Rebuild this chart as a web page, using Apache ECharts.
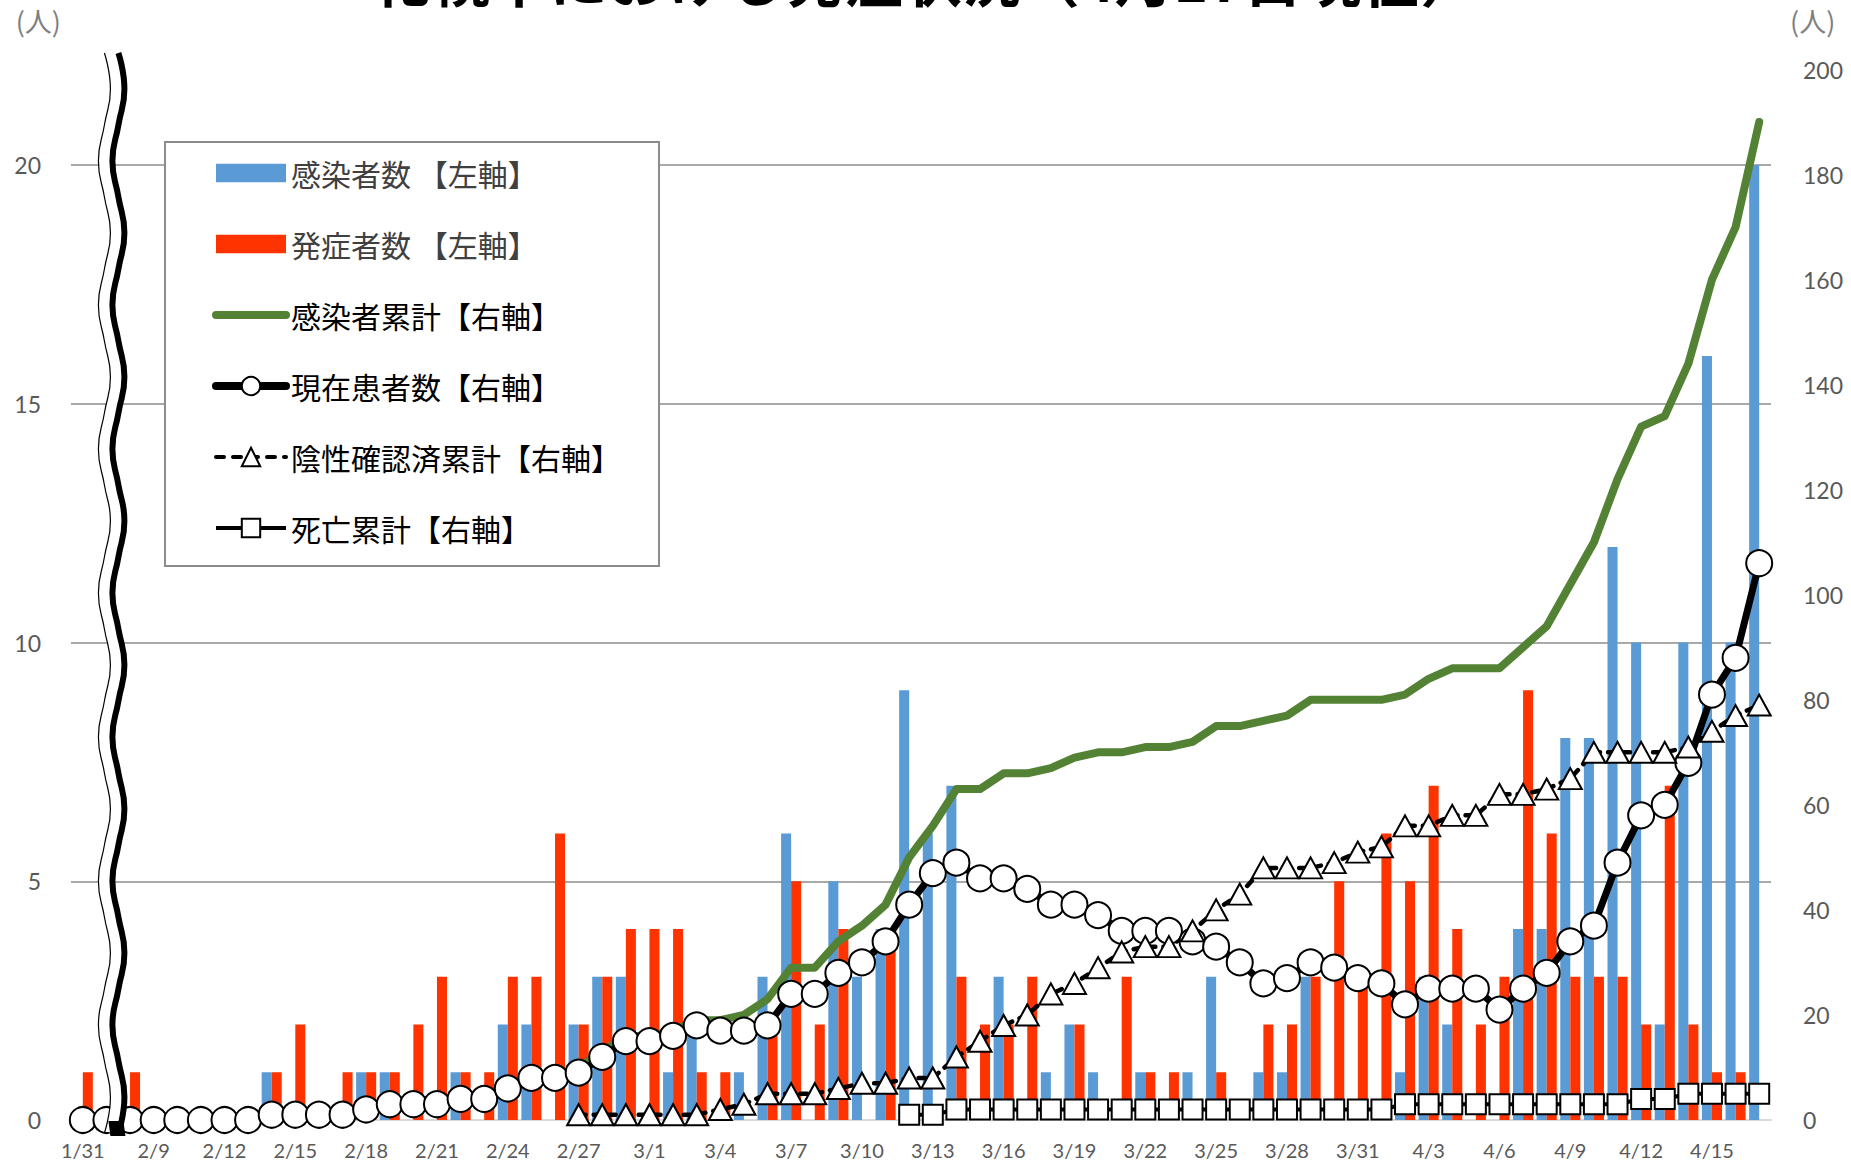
<!DOCTYPE html>
<html>
<head>
<meta charset="utf-8">
<style>
  html, body { margin: 0; padding: 0; background: #fff; }
  #chart { width: 1851px; height: 1168px; }
</style>
<script src="https://cdn.jsdelivr.net/npm/echarts@6/dist/echarts.min.js"></script>
</head>
<body>
<div id="chart"></div>
<script>
  // categories (1/31 then a break, then daily from 2/7)
  const dates = [
    '1/31', '2/7', '2/8', '2/9', '2/10', '2/11', '2/12', '2/13', '2/14', '2/15',
    '2/16', '2/17', '2/18', '2/19', '2/20', '2/21', '2/22', '2/23', '2/24', '2/25',
    '2/26', '2/27', '2/28', '2/29', '3/1', '3/2', '3/3', '3/4', '3/5', '3/6',
    '3/7', '3/8', '3/9', '3/10', '3/11', '3/12', '3/13', '3/14', '3/15', '3/16',
    '3/17', '3/18', '3/19', '3/20', '3/21', '3/22', '3/23', '3/24', '3/25', '3/26',
    '3/27', '3/28', '3/29', '3/30', '3/31', '4/1', '4/2', '4/3', '4/4', '4/5',
    '4/6', '4/7', '4/8', '4/9', '4/10', '4/11', '4/12', '4/13', '4/14', '4/15',
    '4/16', '4/17'
  ];

  // left axis
  const infected = [
    0, 0, 0, 0, 0, 0, 0, 0, 1, 0,
    0, 0, 1, 1, 0, 0, 1, 0, 2, 2,
    0, 2, 3, 3, 0, 1, 2, 0, 1, 3,
    6, 0, 5, 3, 4, 9, 6, 7, 0, 3,
    0, 1, 2, 1, 0, 1, 0, 1, 3, 0,
    1, 1, 3, 0, 0, 0, 1, 3, 2, 0,
    0, 4, 4, 8, 8, 12, 10, 2, 10, 16,
    10, 20
  ];
  const onset = [
    1, 0, 1, 0, 0, 0, 0, 0, 1, 2,
    0, 1, 1, 1, 2, 3, 1, 1, 3, 3,
    6, 2, 3, 4, 4, 4, 1, 1, 0, 2,
    5, 2, 4, 0, 4, 0, 0, 3, 2, 2,
    3, 0, 2, 0, 3, 1, 1, 0, 1, 0,
    2, 2, 3, 5, 3, 6, 5, 7, 4, 2,
    3, 9, 6, 3, 3, 3, 2, 7, 2, 1,
    1, 0
  ];

  // right axis
  const cumulative = [
    0, 0, 0, 0, 0, 0, 0, 0, 1, 1,
    1, 1, 2, 3, 3, 3, 4, 4, 6, 8,
    8, 10, 13, 16, 16, 17, 19, 19, 20, 23,
    29, 29, 34, 37, 41, 50, 56, 63, 63, 66,
    66, 67, 69, 70, 70, 71, 71, 72, 75, 75,
    76, 77, 80, 80, 80, 80, 81, 84, 86, 86,
    86, 90, 94, 102, 110, 122, 132, 134, 144, 160,
    170, 190
  ];
  const current = [
    0, 0, 0, 0, 0, 0, 0, 0, 1, 1,
    1, 1, 2, 3, 3, 3, 4, 4, 6, 8,
    8, 9, 12, 15, 15, 16, 18, 17, 17, 18,
    24, 24, 28, 30, 34, 41, 47, 49, 46, 46,
    44, 41, 41, 39, 36, 36, 36, 34, 33, 30,
    26, 27, 30, 29, 27, 26, 22, 25, 25, 25,
    21, 25, 28, 34, 37, 49, 58, 60, 68, 81,
    88, 106
  ];
  const negative = [
    null, null, null, null, null, null, null, null, null, null,
    null, null, null, null, null, null, null, null, null, null,
    null, 1, 1, 1, 1, 1, 1, 2, 3, 5,
    5, 5, 6, 7, 7, 8, 8, 12, 15, 18,
    20, 24, 26, 29, 32, 33, 33, 36, 40, 43,
    48, 48, 48, 49, 51, 52, 56, 56, 58, 58,
    62, 62, 63, 65, 70, 70, 70, 70, 71, 74,
    77, 79
  ];
  const deaths = [
    null, null, null, null, null, null, null, null, null, null,
    null, null, null, null, null, null, null, null, null, null,
    null, null, null, null, null, null, null, null, null, null,
    null, null, null, null, null, 1, 1, 2, 2, 2,
    2, 2, 2, 2, 2, 2, 2, 2, 2, 2,
    2, 2, 2, 2, 2, 2, 3, 3, 3, 3,
    3, 3, 3, 3, 3, 3, 4, 4, 5, 5,
    5, 5
  ];

  const leftTicks = { min: 0, max: 22, interval: 5 };
  const rightTicks = { min: 0, max: 200, interval: 20 };

  const names = [
    '感染者数 【左軸】', '発症者数 【左軸】', '感染者累計【右軸】',
    '現在患者数【右軸】', '陰性確認済累計【右軸】', '死亡累計【右軸】'
  ];

  const numFont = 'Lato, "Noto Sans", sans-serif';
  const jpFont = '"Noto Sans CJK JP", sans-serif';

  const chart = echarts.init(document.getElementById('chart'), null, { renderer: 'svg' });

  const markerStyle = { color: '#fff', borderColor: '#000', borderWidth: 2 };
  const barIcon = 'path://M0,0L68,0L68,18L0,18Z';

  chart.setOption({
    animation: false,
    backgroundColor: '#fff',
    title: {
      text: '札幌市における発症状況（4月17日現在）',
      left: 'center',
      top: -58,
      textStyle: { fontFamily: jpFont, fontSize: 59, fontWeight: 'bold', color: '#000' }
    },
    grid: { left: 71, right: 80, top: 69.5, bottom: 48, containLabel: false },
    legend: {
      orient: 'vertical',
      left: 165,
      top: 142,
      padding: [16, 38, 23, 47],
      itemWidth: 70,
      itemHeight: 23,
      itemGap: 41,
      symbolKeepAspect: true,
      backgroundColor: '#fff',
      borderColor: '#8c8c8c',
      borderWidth: 2,
      textStyle: { fontFamily: jpFont, fontSize: 30, color: '#000' },
      data: [
        { name: names[0], icon: barIcon, textStyle: { color: '#404040' } },
        { name: names[1], icon: barIcon, textStyle: { color: '#404040' } },
        { name: names[2], lineStyle: { width: 8, cap: 'round' }, itemStyle: { opacity: 0 } },
        { name: names[3], lineStyle: { width: 8, cap: 'round' } },
        { name: names[4], lineStyle: { width: 4, type: [8, 9] } },
        { name: names[5], lineStyle: { width: 4 } }
      ]
    },
    xAxis: {
      type: 'category',
      data: dates,
      axisLine: { show: true, lineStyle: { color: '#d9d9d9', width: 2 } },
      axisTick: { show: false },
      axisLabel: { interval: 2, color: '#595959', fontSize: 20, fontFamily: numFont, margin: 20 },
      splitLine: { show: false }
    },
    yAxis: [
      {
        type: 'value',
        position: 'left',
        min: leftTicks.min, max: leftTicks.max, interval: leftTicks.interval,
        name: '(人)',
        nameLocation: 'end',
        nameGap: 36,
        nameTextStyle: { fontFamily: jpFont, fontSize: 27, color: '#7f7f7f', align: 'right', padding: [0, 10, 0, 0] },
        axisLine: { show: false },
        axisTick: { show: false },
        axisLabel: { color: '#595959', fontSize: 23, fontFamily: numFont, margin: 30, showMaxLabel: false },
        splitLine: { show: true, showMinLine: false, showMaxLine: false, lineStyle: { color: '#8c8c8c', width: 1.5 } }
      },
      {
        type: 'value',
        position: 'right',
        min: rightTicks.min, max: rightTicks.max, interval: rightTicks.interval,
        name: '(人)',
        nameLocation: 'end',
        nameGap: 36,
        nameTextStyle: { fontFamily: jpFont, fontSize: 27, color: '#7f7f7f', align: 'left', padding: [0, 0, 0, 19] },
        axisLine: { show: false },
        axisTick: { show: false },
        axisLabel: { color: '#595959', fontSize: 23, fontFamily: numFont, margin: 32 },
        splitLine: { show: false }
      }
    ],
    series: [
      {
        name: names[0], type: 'bar', yAxisIndex: 0, data: infected,
        itemStyle: { color: '#5B9BD5' }, barGap: '0%', barCategoryGap: '15%'
      },
      {
        name: names[1], type: 'bar', yAxisIndex: 0, data: onset,
        itemStyle: { color: '#FF3300' }, barGap: '0%', barCategoryGap: '15%'
      },
      {
        name: names[2], type: 'line', yAxisIndex: 1, data: cumulative,
        symbol: 'none',
        itemStyle: { color: '#548235' },
        lineStyle: { color: '#548235', width: 8, cap: 'round', join: 'round' }
      },
      {
        name: names[3], type: 'line', yAxisIndex: 1, data: current,
        symbol: 'circle', symbolSize: 26, showAllSymbol: true,
        itemStyle: markerStyle,
        lineStyle: { color: '#000', width: 7, join: 'round' }
      },
      {
        name: names[4], type: 'line', yAxisIndex: 1, data: negative,
        symbol: 'triangle', symbolSize: [23, 21], showAllSymbol: true,
        itemStyle: markerStyle,
        lineStyle: { color: '#000', width: 4.5, type: [7, 8], cap: 'round' }
      },
      {
        name: names[5], type: 'line', yAxisIndex: 1, data: deaths,
        symbol: 'rect', symbolSize: 20, showAllSymbol: true,
        itemStyle: markerStyle,
        lineStyle: { color: '#000', width: 4 }
      }
    ]
  });

  // axis break mark drawn over the second category
  const xc = chart.convertToPixel({ xAxisIndex: 0 }, dates[1]) + 5;
  const yBase = chart.convertToPixel({ yAxisIndex: 0 }, 0);
  const yStart = 53;
  const half = 72;
  const amp = 6;
  const wave = [[0, yStart]];
  let y = yStart;
  let side = 1;
  while (y + half <= yBase + 20) {
    wave.push([side * amp, y + half / 2]);
    wave.push([0, y + half]);
    y += half;
    side = -side;
  }
  const yEnd = y;

  const waveLine = (dx, width, color, z) => ({
    type: 'polyline', x: xc + dx, z: z,
    shape: { points: wave, smooth: 0.5 },
    style: { fill: null, stroke: color, lineWidth: width }
  });

  chart.setOption({
    graphic: [
      waveLine(0, 13, '#fff', 100),
      waveLine(-7, 1.2, '#000', 101),
      waveLine(7, 6, '#000', 101),
      {
        type: 'polygon', z: 102,
        shape: { points: [[xc - 3, yEnd - 12], [xc + 12, yEnd - 12], [xc + 14, yEnd + 3], [xc - 1, yEnd + 3]] },
        style: { fill: '#000' }
      }
    ]
  });
</script>
</body>
</html>
